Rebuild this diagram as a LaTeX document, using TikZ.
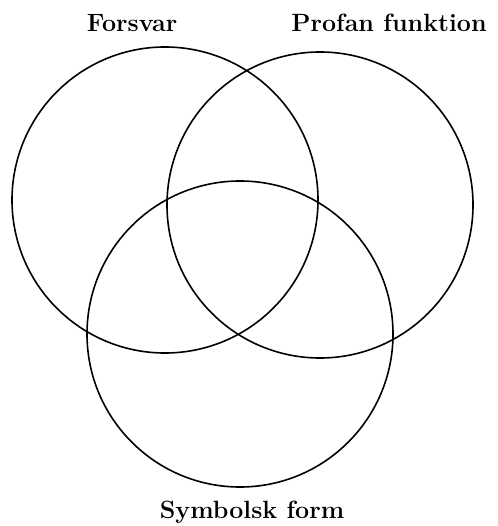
\documentclass[tikz,border=0pt]{standalone}
\begin{document}
\begin{tikzpicture}[x=1pt,y=-1pt,
  ring/.style={draw=black,line width=1.6pt},
  lbl/.style={font=\fontsize{25}{30}\selectfont\bfseries,inner sep=0pt,anchor=base}]
\useasboundingbox (0,0) rectangle (497,526);
\coordinate (cF) at (165,200);
\coordinate (cP) at (320,205);
\coordinate (cS) at (240,334);
\draw[ring] (cF) circle[radius=153];
\draw[ring] (cP) circle[radius=153];
\draw[ring] (cS) circle[radius=153];
\node[lbl] (lF) at (132,32) {Forsvar};
\node[lbl] (lP) at (389,32) {Profan funktion};
\node[lbl] (lS) at (252,518) {Symbolsk form};
\end{tikzpicture}
\end{document}
